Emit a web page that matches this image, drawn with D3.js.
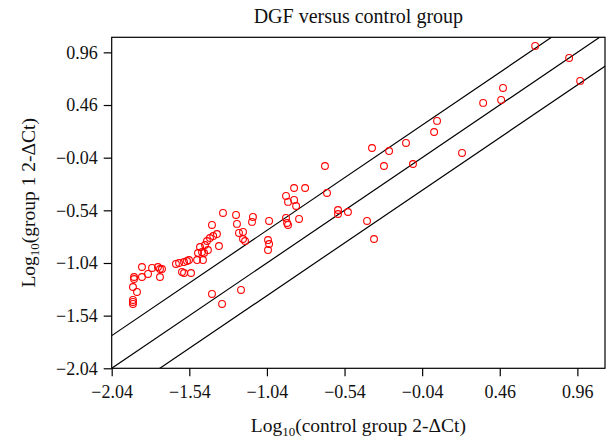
<!DOCTYPE html>
<html>
<head>
<meta charset="utf-8">
<script src="https://d3js.org/d3.v7.min.js"></script>
<style>
    body { margin: 0; background: #fff; }
    text { font-family: "Liberation Serif", "DejaVu Serif", serif; fill: #111; }
</style>
</head>
<body>
<div id="chart"></div>
<script>
// log10 2^-dCt, control group (x) vs group 1 (y)
const controlVals = [
    -1.896, -1.896, -1.903, -1.877, -1.903, -1.903, -1.903, -1.845, -1.845, -1.806,
    -1.780, -1.742, -1.729, -1.716, -1.729, -1.626, -1.606, -1.574, -1.555, -1.542,
    -1.587, -1.574, -1.529, -1.490, -1.484, -1.458, -1.452, -1.445, -1.471, -1.420,
    -1.349, -1.386, -1.407, -1.426, -1.439, -1.362, -1.394, -1.323, -1.239, -1.233,
    -1.194, -1.220, -1.194, -1.181, -1.130, -1.136, -1.033, -1.026, -1.033, -1.026,
    -0.917, -0.910, -0.904, -0.833, -0.917, -0.865, -0.904, -0.852, -0.865, -0.794,
    -0.653, -0.666, -0.582, -0.582, -0.518, -0.395, -0.350, -0.363, -0.253, -0.286,
    -0.099, -0.144, 0.037, 0.056, 0.217, 0.353, 0.469, 0.481, 0.688, 0.907,
    0.978, -1.394, -1.329, -1.207
];
const group1Vals = [
    -1.173, -1.192, -1.268, -1.315, -1.391, -1.410, -1.429, -1.078, -1.173, -1.144,
    -1.087, -1.078, -1.097, -1.097, -1.173, -1.049, -1.040, -1.031, -1.021, -1.012,
    -1.125, -1.135, -1.135, -1.012, -0.945, -0.936, -1.012, -0.945, -0.888, -0.917,
    -0.879, -0.784, -0.803, -0.831, -0.869, -0.765, -0.679, -0.565, -0.584, -0.669,
    -0.745, -0.755, -0.812, -0.831, -0.603, -0.650, -0.822, -0.860, -0.917, -0.641,
    -0.612, -0.660, -0.679, -0.622, -0.403, -0.441, -0.460, -0.499, -0.328, -0.328,
    -0.375, -0.119, -0.537, -0.575, -0.556, -0.641, -0.812, 0.052, 0.023, -0.119,
    -0.100, 0.100, 0.204, 0.309, 0.005, 0.480, 0.508, 0.622, 1.021, 0.907,
    0.689, -1.334, -1.429, -1.296
];
const tickVals = [-2.04, -1.54, -1.04, -0.54, -0.04, 0.46, 0.96];
const foldOffsets = [0.31, 0, -0.31];   // y = x + offset
const xDomain = [-2.04, 1.138];
const yDomain = [-2.04, 1.103];

const W = 611, H = 439;
const margin = { left: 111.7, right: 6, top: 37.3, bottom: 70.7 };

const svg = d3.select('#chart').append('svg')
    .attr('width', W).attr('height', H);

const x = d3.scaleLinear().domain(xDomain).range([margin.left, W - margin.right]);
const y = d3.scaleLinear().domain(yDomain).range([H - margin.bottom, margin.top]);

const fmt = v => (v < 0 ? '\u2212' : '') + Math.abs(v).toFixed(2);

svg.append('defs').append('clipPath').attr('id', 'plotclip')
    .append('rect')
    .attr('x', x.range()[0]).attr('y', y.range()[1])
    .attr('width', x.range()[1] - x.range()[0])
    .attr('height', y.range()[0] - y.range()[1]);

// reference lines
const lineGen = d3.line().x(d => x(d[0])).y(d => y(d[1]));
svg.append('g').attr('clip-path', 'url(#plotclip)')
    .selectAll('path')
    .data(foldOffsets)
    .join('path')
    .attr('d', c => lineGen([[-3, -3 + c], [2, 2 + c]]))
    .attr('fill', 'none')
    .attr('stroke', '#000')
    .attr('stroke-width', 1.2);

// points
const pts = controlVals.map((v, i) => [v, group1Vals[i]]);
svg.append('g')
    .selectAll('circle')
    .data(pts)
    .join('circle')
    .attr('cx', d => x(d[0]))
    .attr('cy', d => y(d[1]))
    .attr('r', 3.4)
    .attr('fill', 'none')
    .attr('stroke', '#f00')
    .attr('stroke-width', 1.1);

// box
svg.append('rect')
    .attr('x', x.range()[0]).attr('y', y.range()[1])
    .attr('width', x.range()[1] - x.range()[0])
    .attr('height', y.range()[0] - y.range()[1])
    .attr('fill', 'none').attr('stroke', '#000').attr('stroke-width', 1.2);

// axes
const xAxis = svg.append('g')
    .attr('transform', `translate(0,${y.range()[0]})`)
    .call(d3.axisBottom(x).tickValues(tickVals).tickFormat(fmt).tickSize(8).tickPadding(9));
const yAxis = svg.append('g')
    .attr('transform', `translate(${x.range()[0]},0)`)
    .call(d3.axisLeft(y).tickValues(tickVals).tickFormat(fmt).tickSize(8).tickPadding(6));

[xAxis, yAxis].forEach(a => {
    a.select('.domain').remove();
    a.selectAll('line').attr('stroke', '#000').attr('stroke-width', 1.2);
    a.selectAll('text')
        .attr('fill', '#111')
        .style('font-family', '"Liberation Serif", serif')
        .style('font-size', '18px');
});

// titles
const midX = (x.range()[0] + x.range()[1]) / 2;
const midY = (y.range()[0] + y.range()[1]) / 2;

svg.append('text')
    .attr('x', midX).attr('y', 23)
    .attr('text-anchor', 'middle')
    .style('font-size', '20px')
    .text('DGF versus control group');

const xt = svg.append('text')
    .attr('x', midX).attr('y', 432)
    .attr('text-anchor', 'middle')
    .style('font-size', '19.5px');
xt.append('tspan').text('Log');
xt.append('tspan').attr('dy', 4).style('font-size', '13px').text('10');
xt.append('tspan').attr('dy', -4).text('(control group 2-\u0394Ct)');

const yt = svg.append('text')
    .attr('transform', `translate(35,${midY}) rotate(-90)`)
    .attr('text-anchor', 'middle')
    .style('font-size', '19.5px');
yt.append('tspan').text('Log');
yt.append('tspan').attr('dy', 4).style('font-size', '13px').text('10');
yt.append('tspan').attr('dy', -4).text('(group 1 2-\u0394Ct)');
</script>
</body>
</html>
